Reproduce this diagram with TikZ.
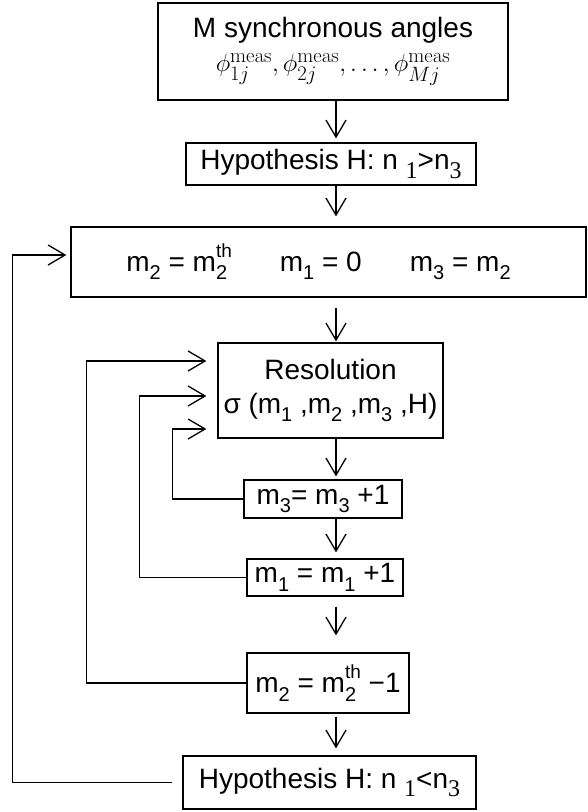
\documentclass[tikz,border=0pt]{standalone}
\usepackage{amsmath}
\usepackage{amssymb}
\usepackage[no-math]{fontspec}
\setmainfont{Liberation Sans}
\newfontfamily\serifnum{Liberation Serif}
\usetikzlibrary{arrows.meta}
\newcommand{\lo}[1]{\raisebox{-0.3em}{\fontsize{20}{20}\selectfont #1}}
\newcommand{\hi}[1]{\raisebox{0.5em}{\fontsize{19}{19}\selectfont #1}}
\newcommand{\nsub}[1]{\raisebox{-0.3em}{\serifnum\fontsize{24}{24}\selectfont #1}}

\begin{document}
\begin{tikzpicture}[x=1pt,y=-1pt,>={Straight Barb[length=17pt,width=20pt]},
                      box/.style={draw,line width=1.3pt,inner sep=0pt,align=center,font=\fontsize{28}{34}\selectfont},
                      flow/.style={->,line width=1.3pt}]
                        \useasboundingbox (0,0) rectangle (588,812);
                        % boxes, top to bottom
                        \node[box,minimum width=350pt,minimum height=97pt] (angles) at (333,51.5)
                          {M synchronous angles\\[0pt]
                           {\fontsize{29}{32}\selectfont $\phi^{\mathrm{meas}}_{1j},\phi^{\mathrm{meas}}_{2j},\dots,\phi^{\mathrm{meas}}_{Mj}$}};
                        \node[box,minimum width=290pt,minimum height=42pt] (hyp1) at (331,164)
                          {Hypothesis H: n \nsub{1}>n\nsub{3}};
                        \node[box,minimum width=515pt,minimum height=70pt] (init) at (328.5,262)
                          {m\lo{2} = m\rlap{\lo{2}}\hi{th}\hspace{48pt}m\lo{1} = 0\hspace{48pt}m\lo{3} = m\lo{2}\hspace*{20pt}};
                        \node[box,minimum width=225pt,minimum height=95pt] (resol) at (330.5,390.5)
                          {Resolution\\ σ (m\lo{1} ,m\lo{2} ,m\lo{3} ,H)};
                        \node[box,minimum width=158pt,minimum height=38pt] (incr3) at (323,499)
                          {m\lo{3}= m\lo{3} +1};
                        \node[box,minimum width=156pt,minimum height=37pt] (incr1) at (325,577.5)
                          {m\lo{1} = m\lo{1} +1};
                        \node[box,minimum width=162pt,minimum height=60pt] (decr2) at (328,683)
                          {m\lo{2} = m\rlap{\lo{2}}\hi{th} −1};
                        \node[box,minimum width=293pt,minimum height=53pt] (hyp2) at (329.5,782.5)
                          {Hypothesis H: n \nsub{1}<n\nsub{3}};
                        % main flow
                        \coordinate (spine) at (336,0);
                        \draw[flow,shorten >=4pt] (angles.south -| spine) -- (hyp1.north -| spine);
                        \draw[flow,shorten >=10pt] (hyp1.south -| spine) -- (init.north -| spine);
                        \draw[flow,shorten <=10pt,shorten >=1pt] (init.south -| spine) -- (resol.north -| spine);
                        \draw[flow,shorten >=3pt] (resol.south -| spine) -- (incr3.north -| spine);
                        \draw[flow,shorten >=6pt] (incr3.south -| spine) -- (incr1.north -| spine);
                        \draw[flow,shorten <=10pt,shorten >=17pt] (incr1.south -| spine) -- (decr2.north -| spine);
                        \draw[flow,shorten <=3pt,shorten >=7pt] (decr2.south -| spine) -- (hyp2.north -| spine);
                        % loops back
                        \draw[flow,shorten >=11pt] (incr3.west) -- ++(-71,0) |- ([yshift=-38.5pt]resol.west);
                        \draw[flow,shorten >=11pt] (incr1.west) -- ++(-107,0) |- ([yshift=-5.5pt]resol.west);
                        \draw[flow,shorten >=11pt] (decr2.west) -- ++(-160,0) |- ([yshift=29.5pt]resol.west);
                        \draw[flow,shorten <=10pt,shorten >=4pt] (hyp2.west) -- ++(-170,0) |- ([yshift=7pt]init.west);
                    \end{tikzpicture}
\end{document}
